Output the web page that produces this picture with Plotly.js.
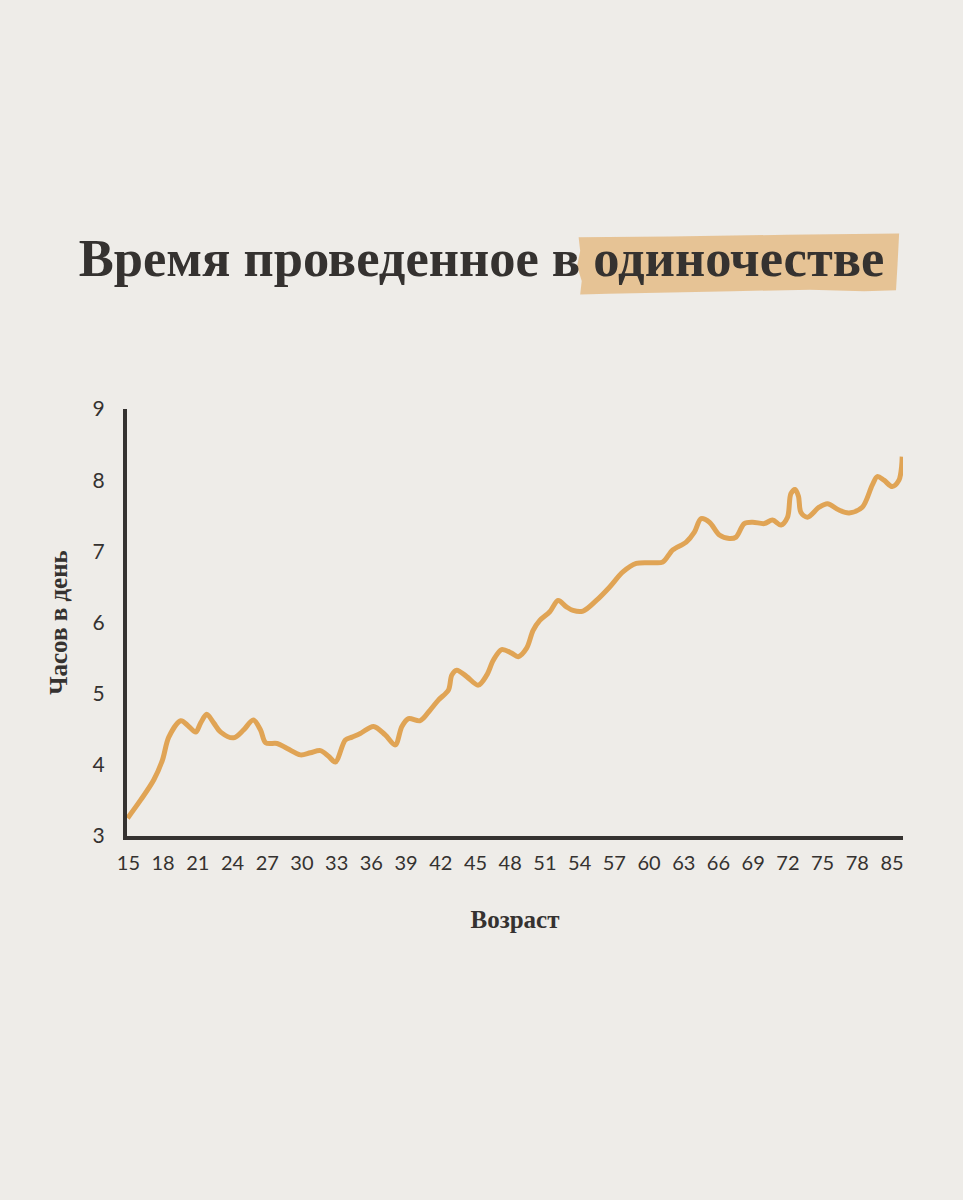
<!DOCTYPE html>
<html>
<head>
<meta charset="utf-8">
<script src="https://cdn.plot.ly/plotly-3.0.1.min.js"></script>
<style>
  html, body { margin: 0; padding: 0; background: #eeece8; }
  #chart { width: 963px; height: 1200px; }
</style>
</head>
<body>
<div id="chart"></div>
<script>
// Age (years)
const ages = [14.93, 16.08, 17.2, 17.95, 18.49, 19.53, 20.22, 20.82, 21.25, 21.77,
  22.37, 22.98, 24.1, 24.96, 25.79, 26.42, 26.86, 27.86, 28.73, 29.87,
  30.73, 31.6, 32.3, 32.89, 33.75, 34.33, 35.04, 36.19, 37.2, 38.06,
  38.64, 39.21, 40.22, 41.08, 41.79, 42.66, 42.95, 43.38, 44.24, 45.24,
  45.97, 46.54, 47.26, 48.12, 48.69, 49.42, 49.98, 50.56, 51.42, 52.14,
  52.86, 53.43, 54.29, 55.45, 56.6, 57.74, 58.9, 60.33, 61.19, 62.05,
  63.21, 63.92, 64.5, 65.22, 66.08, 66.94, 67.52, 68.23, 68.95, 69.96,
  70.67, 71.4, 71.97, 72.26, 72.63, 72.92, 73.12, 73.69, 74.7, 75.42,
  76.42, 77.29, 78.43, 79.29, 79.73, 80.3, 81.02, 81.6, 81.83, 81.88];
// Hours per day spent alone
const hours = [3.25, 3.51, 3.79, 4.07, 4.39, 4.62, 4.54, 4.46, 4.59, 4.71,
  4.59, 4.46, 4.38, 4.49, 4.63, 4.49, 4.31, 4.30, 4.23, 4.14,
  4.17, 4.20, 4.12, 4.04, 4.35, 4.39, 4.44, 4.54, 4.42, 4.28,
  4.54, 4.65, 4.62, 4.77, 4.91, 5.05, 5.26, 5.33, 5.24, 5.12,
  5.26, 5.47, 5.62, 5.57, 5.52, 5.64, 5.89, 6.03, 6.15, 6.31,
  6.22, 6.17, 6.16, 6.31, 6.50, 6.71, 6.83, 6.84, 6.85, 7.02,
  7.13, 7.27, 7.46, 7.41, 7.23, 7.18, 7.20, 7.39, 7.41, 7.39,
  7.44, 7.37, 7.48, 7.81, 7.87, 7.77, 7.55, 7.48, 7.62, 7.67,
  7.58, 7.54, 7.62, 7.93, 8.05, 8.00, 7.91, 8.00, 8.19, 8.33];

const tickAges = [15, 18, 21, 24, 27, 30, 33, 36, 39, 42, 45, 48, 51, 54, 57, 60, 63, 66, 69, 72, 75, 78, 81];
const tickLabels = ['15','18','21','24','27','30','33','36','39','42','45','48','51','54','57','60','63','66','69','72','75','78','85'];
const hourTicks = [3, 4, 5, 6, 7, 8, 9];

const titleText = 'Время проведенное в одиночестве';
const yTitle = 'Часов в день';
const xTitle = 'Возраст';

const serif = '"Liberation Serif", "DejaVu Serif", serif';
const sans = 'Lato, "Open Sans", sans-serif';
const ink = '#353230';

const trace = {
  x: ages, y: hours, type: 'scatter', mode: 'lines',
  line: { color: '#e0a455', width: 5, shape: 'spline', smoothing: 0.9 },
  hoverinfo: 'skip'
};

const layout = {
  width: 963, height: 1200,
  paper_bgcolor: '#eeece8', plot_bgcolor: 'rgba(0,0,0,0)',
  margin: { l: 127, r: 60, t: 409, b: 364 },
  showlegend: false,
  title: {
    text: '<b>' + titleText + '</b>',
    font: { family: serif, size: 52.5, color: ink },
    xref: 'container', yref: 'container', x: 0.5, y: 0.785,
    xanchor: 'center', yanchor: 'middle'
  },
  xaxis: {
    range: [14.88, 81.95], showgrid: false, zeroline: false,
    showline: true, linewidth: 4, linecolor: ink,
    tickmode: 'array', tickvals: tickAges, ticktext: tickLabels,
    ticks: '', tickfont: { family: sans, size: 20, color: ink },
    ticklabelstandoff: 6,
    title: { text: '<b>' + xTitle + '</b>', font: { family: serif, size: 25, color: ink }, standoff: 38 }
  },
  yaxis: {
    range: [3, 9], showgrid: false, zeroline: false,
    showline: true, linewidth: 4, linecolor: ink,
    tickmode: 'array', tickvals: hourTicks,
    ticks: '', tickfont: { family: sans, size: 21, color: ink },
    ticklabelstandoff: 14,
    title: { text: '<b>' + yTitle + '</b>', font: { family: serif, size: 25, color: ink }, standoff: 19 }
  },
  shapes: [{
    type: 'path', xref: 'paper', yref: 'paper', layer: 'below',
    path: 'M 0.582,1.402 L 0.70,1.404 L 0.85,1.408 L 0.995,1.411 L 0.993,1.340 L 0.991,1.278 L 0.95,1.276 L 0.88,1.279 L 0.78,1.276 L 0.70,1.273 L 0.62,1.270 L 0.584,1.268 L 0.586,1.300 L 0.580,1.335 L 0.584,1.370 Z',
    fillcolor: 'rgba(228,185,130,0.82)', line: { width: 0 }
  }]
};

Plotly.newPlot('chart', [trace], layout, { displayModeBar: false, staticPlot: true });
</script>
</body>
</html>
